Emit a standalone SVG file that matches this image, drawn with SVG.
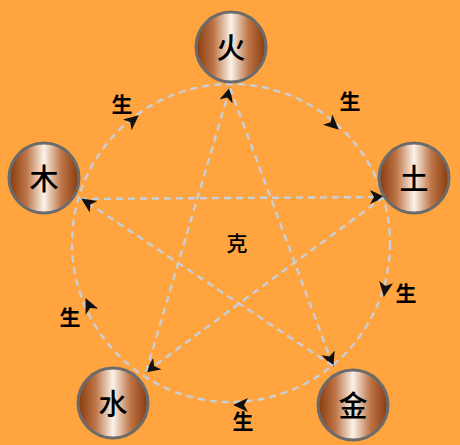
<svg xmlns="http://www.w3.org/2000/svg" width="460" height="445" viewBox="0 0 460 445">
<defs>
<linearGradient id="cu" x1="0" y1="0" x2="1" y2="0">
<stop offset="0" stop-color="#86390c"/>
<stop offset="0.25" stop-color="#bd7446"/>
<stop offset="0.5" stop-color="#fbf2ea"/>
<stop offset="0.75" stop-color="#bd7446"/>
<stop offset="1" stop-color="#86390c"/>
</linearGradient>
<marker id="ah" markerUnits="userSpaceOnUse" markerWidth="18" markerHeight="16" refX="14" refY="7" orient="auto">
<path d="M0,0 L15,7 L0,14 L4,7 z" fill="#111"/>
</marker>
</defs>
<style>
.dash{fill:none;stroke:#c9cfd8;stroke-width:2.4;stroke-dasharray:7 5}
.node circle{fill:url(#cu);stroke:#6b6b6b;stroke-width:3}
.node text{font-family:"Noto Sans CJK SC","Noto Sans CJK JP",sans-serif;font-size:29px;font-weight:500;fill:#000;text-anchor:middle;dominant-baseline:central}
.lbl{font-family:"Noto Sans CJK SC","Noto Sans CJK JP",sans-serif;font-size:21px;fill:#000;text-anchor:middle;dominant-baseline:central;font-weight:bold}
.arr{fill:none;stroke:none}
</style>
<rect width="460" height="445" fill="#ffa43f"/>
<g id="connectors">
<circle class="dash" cx="231" cy="243" r="159"/>
<path class="dash" d="M80,199 L384,197" marker-end="url(#ah)"/>
<path class="dash" d="M384,197 L146,372" marker-end="url(#ah)"/>
<path class="dash" d="M146,372 L230,88" marker-end="url(#ah)"/>
<path class="dash" d="M230,88 L333,366" marker-end="url(#ah)"/>
<path class="dash" d="M333,366 L82,199" marker-end="url(#ah)"/>
<path class="arr" d="M127,125 L138,116" marker-end="url(#ah)"/>
<path class="arr" d="M327,119 L338,129" marker-end="url(#ah)"/>
<path class="arr" d="M386,283 L384,296" marker-end="url(#ah)"/>
<path class="arr" d="M248,405 L234,405" marker-end="url(#ah)"/>
<path class="arr" d="M92,312 L86,299" marker-end="url(#ah)"/>
</g>
<g id="n-huo" class="node"><circle cx="231" cy="47" r="35"/><text x="231" y="46">火</text></g>
<g id="n-tu" class="node"><circle cx="414" cy="178" r="35"/><text x="414" y="177">土</text></g>
<g id="n-jin" class="node"><circle cx="353" cy="405" r="35"/><text x="353" y="404">金</text></g>
<g id="n-shui" class="node"><circle cx="113" cy="403" r="35"/><text x="113" y="402">水</text></g>
<g id="n-mu" class="node"><circle cx="44" cy="178" r="35"/><text x="44" y="177">木</text></g>
<g id="labels">
<text class="lbl" x="122" y="103">生</text>
<text class="lbl" x="350" y="100">生</text>
<text class="lbl" x="406" y="292">生</text>
<text class="lbl" x="243" y="420">生</text>
<text class="lbl" x="70" y="316">生</text>
<text class="lbl" x="237" y="242" style="font-size:21px;font-weight:500">克</text>
</g>
</svg>
